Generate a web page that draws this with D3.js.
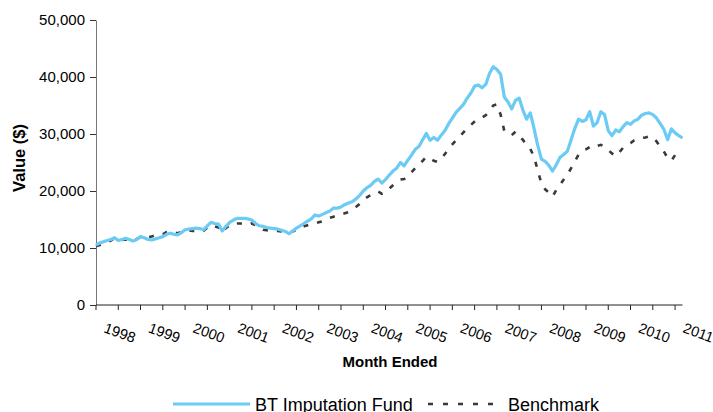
<!DOCTYPE html>
<html>
<head>
<meta charset="utf-8">
<script src="https://cdn.jsdelivr.net/npm/d3@7"></script>
<style>
  body { margin: 0; background: #fff; }
  svg { display: block; font-family: "Liberation Sans", Arial, sans-serif; }
</style>
</head>
<body>
<div id="chart"></div>
<script>
// Monthly values (one per month ended)
const fundValues = [10500,10900,11100,11300,11500,11800,11300,11500,11700,11500,
  11200,11500,12000,11800,11500,11400,11600,11800,12000,12400,
  12600,12400,12300,12700,13200,13300,13400,13500,13400,13200,
  13900,14500,14300,14200,13000,13800,14500,14900,15200,15200,
  15200,15100,14900,14300,13900,13800,13600,13500,13400,13300,
  13100,12900,12500,13000,13500,13900,14300,14700,15100,15800,
  15600,15900,16200,16500,17000,17000,17200,17600,17900,18100,
  18600,19200,20000,20600,21000,21700,22100,21400,22000,22800,
  23500,24000,25000,24400,25400,26300,27300,27800,29000,30100,
  28900,29400,28900,29800,30600,31800,32800,33800,34500,35200,
  36300,37200,38400,38600,38100,38700,40600,41800,41300,40500,
  36500,35600,34400,35900,36300,34200,32600,33700,31000,28000,
  25600,25200,24500,23500,24600,25900,26400,27000,29000,31000,
  32600,32200,32500,33900,31400,32000,33900,33400,30600,29700,
  30700,30400,31300,32000,31700,32300,32600,33300,33600,33700,
  33400,32800,31800,30800,29000,30900,30200,29700,29300];

const benchmarkValues = [10300,10500,10800,11000,11300,11700,11500,11400,11500,11400,
  11300,11600,11900,12000,11900,12000,12300,12300,12400,12800,
  12900,12700,12600,12800,13000,13100,13000,13000,12900,13000,
  13600,14000,13800,13600,12700,13500,14000,14200,14300,14300,
  14200,14100,14300,14000,13600,13200,13100,13000,13000,13000,
  12900,12800,12700,12900,13200,13500,13800,14000,14200,14300,
  14500,14700,15000,15300,15500,15700,15900,16100,16300,16700,
  17200,17700,18400,18900,19300,19700,19900,19500,19700,20400,
  21000,21600,22000,22100,22500,23300,24000,24600,25300,26000,
  25700,25300,25100,25700,26500,27400,28200,28900,29600,30300,
  31000,31600,32200,32700,32900,33300,34000,35000,35200,33400,
  30500,30100,29800,30400,29500,29000,28000,27400,26000,23600,
  21300,20300,19700,19000,20200,21100,22000,22900,24000,25200,
  26400,27100,27300,27700,27500,27900,28100,27800,27200,26600,
  26100,26800,27600,28000,28400,28900,29200,29300,29400,29600,
  29400,28700,27800,26900,25800,25300,26300,26000,25700];

const yearLabels = ["1998","1999","2000","2001","2002","2003","2004",
  "2005","2006","2007","2008","2009","2010","2011"];

const seriesNames = ["BT Imputation Fund", "Benchmark"];

const width = 713, height = 412;
const fundColor = "#6ccbf4";
const benchColor = "#3a3a3a";

const svg = d3.select("#chart").append("svg")
  .attr("width", width)
  .attr("height", height);

const x = d3.scaleLinear()
  .domain([0, fundValues.length - 1])
  .range([96, 682.5]);

const y = d3.scaleLinear()
  .domain([0, 50000])
  .range([305, 20]);

// Y axis
const yAxis = svg.append("g")
  .attr("transform", "translate(96,0)")
  .call(d3.axisLeft(y).tickValues(d3.range(0, 50001, 10000))
    .tickFormat(d3.format(",")).tickSize(6).tickSizeOuter(0));
yAxis.select(".domain").attr("stroke", "#777");
yAxis.selectAll(".tick line").attr("stroke", "#333");
yAxis.selectAll(".tick text")
  .attr("x", -11)
  .attr("fill", "#000")
  .style("font-size", "15px")
  .style("font-family", "Liberation Sans, Arial, sans-serif");

// X axis (ticks every 6 months, labels every 12)
const xAxis = svg.append("g")
  .attr("transform", "translate(0,305)");
xAxis.append("line")
  .attr("x1", x(0)).attr("x2", x(fundValues.length - 1))
  .attr("y1", 0).attr("y2", 0)
  .attr("stroke", "#222");
xAxis.selectAll(".xt")
  .data(d3.range(0, fundValues.length, 6))
  .join("line")
  .attr("class", "xt")
  .attr("x1", d => x(d)).attr("x2", d => x(d))
  .attr("y1", 0).attr("y2", 5)
  .attr("stroke", "#222");
xAxis.selectAll(".xl")
  .data(yearLabels)
  .join("text")
  .attr("class", "xl")
  .attr("transform", (d, i) => `translate(${x(i * 12) + 7},27) rotate(20)`)
  .style("font-size", "14.5px")
  .text(d => d);

// Axis titles
svg.append("text")
  .attr("transform", "translate(25,158) rotate(-90)")
  .attr("text-anchor", "middle")
  .style("font-size", "16.5px")
  .style("font-weight", "bold")
  .text("Value ($)");

svg.append("text")
  .attr("x", 390).attr("y", 367)
  .attr("text-anchor", "middle")
  .style("font-size", "15px")
  .style("font-weight", "bold")
  .text("Month Ended");

// Lines
const line = d3.line()
  .x((d, i) => x(i))
  .y(d => y(d));

svg.append("path")
  .datum(benchmarkValues)
  .attr("fill", "none")
  .attr("stroke", benchColor)
  .attr("stroke-width", 2.6)
  .attr("stroke-dasharray", "5,9")
  .attr("d", line);

svg.append("path")
  .datum(fundValues)
  .attr("fill", "none")
  .attr("stroke", fundColor)
  .attr("stroke-width", 3.2)
  .attr("stroke-linejoin", "round")
  .attr("d", line);

// Legend
const legend = svg.append("g");
legend.append("line")
  .attr("x1", 173).attr("x2", 250).attr("y1", 404).attr("y2", 404)
  .attr("stroke", fundColor).attr("stroke-width", 3);
legend.append("text")
  .attr("x", 255).attr("y", 411)
  .style("font-size", "18px")
  .text(seriesNames[0]);
legend.append("line")
  .attr("x1", 428).attr("x2", 496).attr("y1", 404).attr("y2", 404)
  .attr("stroke", benchColor).attr("stroke-width", 2.6)
  .attr("stroke-dasharray", "5,10");
legend.append("text")
  .attr("x", 508).attr("y", 411)
  .style("font-size", "18px")
  .text(seriesNames[1]);
</script>
</body>
</html>
